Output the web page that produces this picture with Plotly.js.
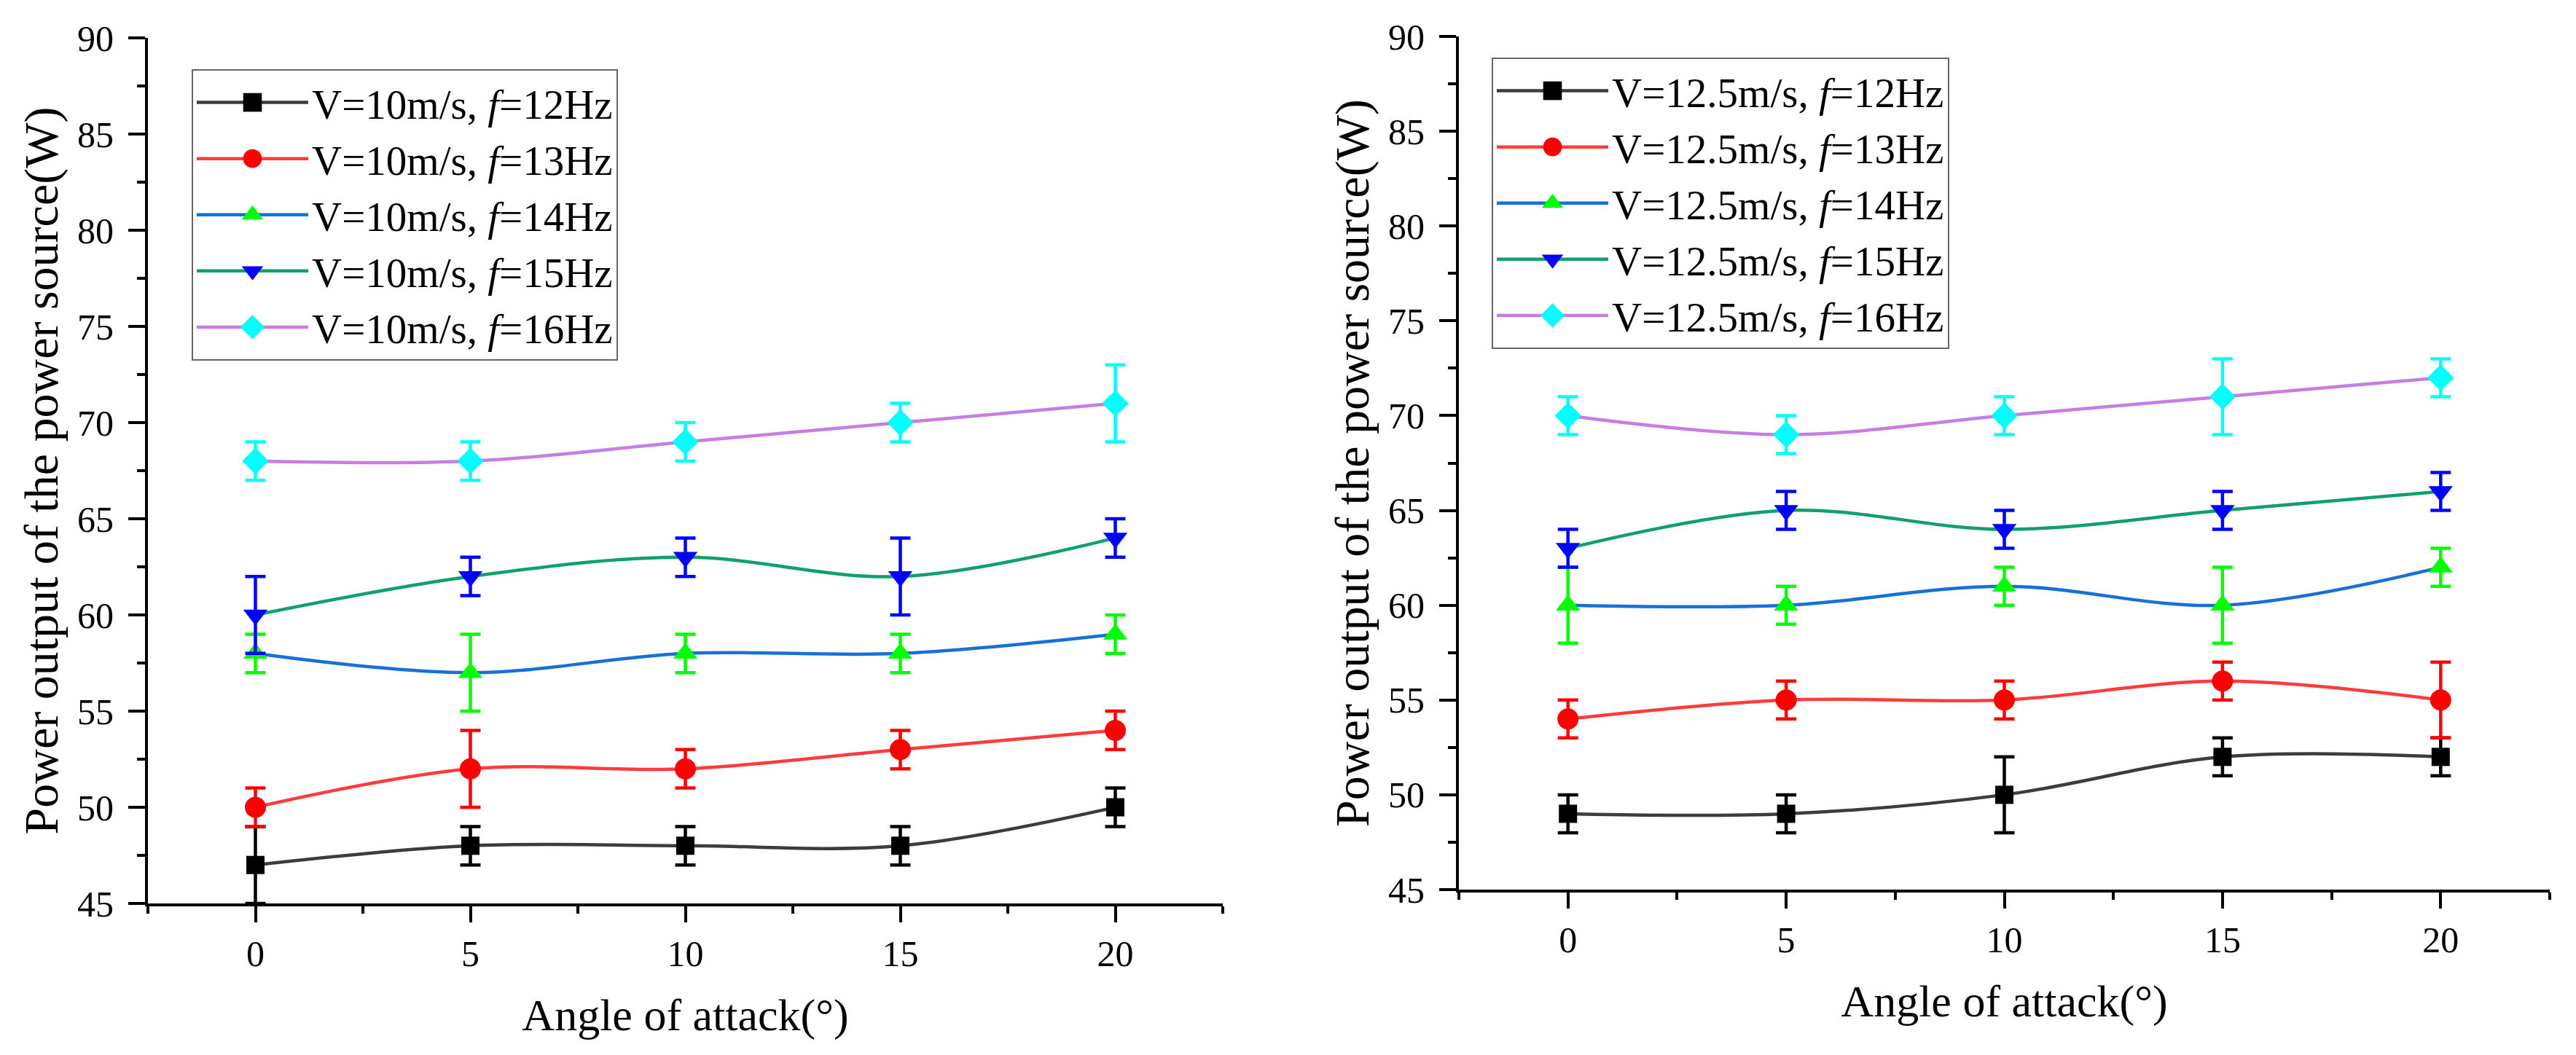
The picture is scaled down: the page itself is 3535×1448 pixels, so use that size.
<!DOCTYPE html>
<html>
<head>
<meta charset="utf-8">
<script src="https://cdn.plot.ly/plotly-3.0.1.min.js"></script>
<style>
  html, body { margin: 0; padding: 0; background: #ffffff; }
  #chart { width: 3535px; height: 1448px; }
</style>
</head>
<body>
<div id="chart"></div>
<script>
// ---------------- data ----------------
const angles = [0, 5, 10, 15, 20];

// V = 10 m/s (left panel)
const p10_f12 = [47, 48, 48, 48, 50];
const e10_f12 = [2, 1, 1, 1, 1];
const p10_f13 = [50, 52, 52, 53, 54];
const e10_f13 = [1, 2, 1, 1, 1];
const p10_f14 = [58, 57, 58, 58, 59];
const e10_f14 = [1, 2, 1, 1, 1];
const p10_f15 = [60, 62, 63, 62, 64];
const e10_f15 = [2, 1, 1, 2, 1];
const p10_f16 = [68, 68, 69, 70, 71];
const e10_f16 = [1, 1, 1, 1, 2];

// V = 12.5 m/s (right panel)
const p125_f12 = [49, 49, 50, 52, 52];
const e125_f12 = [1, 1, 2, 1, 1];
const p125_f13 = [54, 55, 55, 56, 55];
const e125_f13 = [1, 1, 1, 1, 2];
const p125_f14 = [60, 60, 61, 60, 62];
const e125_f14 = [2, 1, 1, 2, 1];
const p125_f15 = [63, 65, 64, 65, 66];
const e125_f15 = [1, 1, 1, 1, 1];
const p125_f16 = [70, 69, 70, 71, 72];
const e125_f16 = [1, 1, 1, 2, 1];

const names10 = ['V=10m/s, <i>f</i>=12Hz', 'V=10m/s, <i>f</i>=13Hz', 'V=10m/s, <i>f</i>=14Hz', 'V=10m/s, <i>f</i>=15Hz', 'V=10m/s, <i>f</i>=16Hz'];
const names125 = ['V=12.5m/s, <i>f</i>=12Hz', 'V=12.5m/s, <i>f</i>=13Hz', 'V=12.5m/s, <i>f</i>=14Hz', 'V=12.5m/s, <i>f</i>=15Hz', 'V=12.5m/s, <i>f</i>=16Hz'];

const xTitle = 'Angle of attack(°)';
const yTitle = 'Power output of the power source(W)';

// ---------------- styles ----------------
const lineColors = ['#3c3c3c', '#ff3b3b', '#1670d8', '#12a06a', '#c47ee4'];
const markColors = ['#000000', '#ff0000', '#00ff00', '#0000ff', '#00ffff'];
const symbols = ['square', 'circle', 'triangle-up', 'triangle-down', 'diamond'];
const sizes = [25, 29, 29, 29, 28];
const FONT = '"Liberation Serif", "Times New Roman", serif';

function mk(y, e, i, name, xa, ya, lg) {
  return {
    x: angles, y: y, name: name, xaxis: xa, yaxis: ya, legend: lg,
    type: 'scatter', mode: 'lines+markers',
    line: { shape: 'spline', smoothing: 1, color: lineColors[i], width: 4.5 },
    marker: { symbol: symbols[i], size: sizes[i], color: markColors[i] },
    error_y: { type: 'data', array: e, visible: true, color: markColors[i], thickness: 4.5, width: 14 }
  };
}

const left = [[p10_f12, e10_f12], [p10_f13, e10_f13], [p10_f14, e10_f14], [p10_f15, e10_f15], [p10_f16, e10_f16]];
const right = [[p125_f12, e125_f12], [p125_f13, e125_f13], [p125_f14, e125_f14], [p125_f15, e125_f15], [p125_f16, e125_f16]];

const traces = [];
left.forEach((d, i) => traces.push(mk(d[0], d[1], i, names10[i], 'x', 'y', 'legend')));
right.forEach((d, i) => traces.push(mk(d[0], d[1], i, names125[i], 'x2', 'y2', 'legend2')));

// ---------------- layout ----------------
const W = 3535, H = 1448;
const tickFont = { family: FONT, size: 50, color: '#000' };

function xBottom(domain, anchor) {
  return {
    domain: domain, anchor: anchor, range: [-2.5, 22.5],
    tickmode: 'array', tickvals: angles, ticktext: angles.map(String),
    ticks: 'outside', ticklen: 22, tickwidth: 4, tickcolor: '#000',
    minor: { tickmode: 'linear', tick0: 0, dtick: 2.5, ticks: 'outside', ticklen: 10, tickwidth: 4, tickcolor: '#000' },
    showline: true, linewidth: 4, linecolor: '#000', showgrid: false, zeroline: false,
    tickfont: tickFont, ticklabelstandoff: 0,
    title: { text: xTitle, font: { family: FONT, size: 62, color: '#000' }, standoff: 36 }
  };
}
function xTop(over, anchor) {
  return {
    overlaying: over, anchor: anchor, side: 'top', range: [-2.5, 22.5],
    tickmode: 'array', tickvals: angles, showticklabels: false,
    ticks: 'inside', ticklen: 22, tickwidth: 4, tickcolor: '#000',
    minor: { tickmode: 'linear', tick0: 0, dtick: 2.5, ticks: 'inside', ticklen: 11, tickwidth: 4, tickcolor: '#000' },
    showline: true, linewidth: 4, linecolor: '#000', showgrid: false, zeroline: false
  };
}
function yLeft(domain, anchor) {
  return {
    domain: domain, anchor: anchor, range: [45, 90],
    tickmode: 'linear', tick0: 45, dtick: 5,
    ticks: 'outside', ticklen: 23, tickwidth: 4, tickcolor: '#000',
    minor: { tickmode: 'linear', tick0: 45, dtick: 2.5, ticks: 'outside', ticklen: 11, tickwidth: 4, tickcolor: '#000' },
    showline: true, linewidth: 4, linecolor: '#000', showgrid: false, zeroline: false,
    tickfont: tickFont, ticklabelstandoff: 10,
    title: { text: yTitle, font: { family: FONT, size: 66, color: '#000' }, standoff: 6 }
  };
}
function yRight(over, anchor) {
  return {
    overlaying: over, anchor: anchor, side: 'right', range: [45, 90],
    tickmode: 'linear', tick0: 45, dtick: 5, showticklabels: false,
    ticks: 'inside', ticklen: 23, tickwidth: 4, tickcolor: '#000',
    minor: { tickmode: 'linear', tick0: 45, dtick: 2.5, ticks: 'inside', ticklen: 11, tickwidth: 4, tickcolor: '#000' },
    showline: true, linewidth: 4, linecolor: '#000', showgrid: false, zeroline: false
  };
}

const legendStyle = (x, y) => ({
  x: x, y: y, xanchor: 'left', yanchor: 'top', xref: 'paper', yref: 'paper',
  bgcolor: '#ffffff', bordercolor: '#666666', borderwidth: 2,
  font: { family: FONT, size: 57, color: '#000' },
  itemwidth: 153, tracegroupgap: 0, traceorder: 'normal'
});

const layout = {
  width: W, height: H,
  margin: { l: 0, r: 0, t: 0, b: 0, pad: 0 },
  paper_bgcolor: '#ffffff', plot_bgcolor: '#ffffff',
  showlegend: true,
  font: { family: FONT, color: '#000' },
  xaxis: xBottom([203 / W, 1678 / W], 'y'),
  yaxis: yLeft([(H - 1240) / H, (H - 52) / H], 'x'),
  xaxis2: xBottom([2002 / W, 3499 / W], 'y2'),
  yaxis2: yLeft([(H - 1221) / H, (H - 50) / H], 'x2'),
  xaxis3: xTop('x', 'y'),
  yaxis3: yRight('y', 'x'),
  xaxis4: xTop('x2', 'y2'),
  yaxis4: yRight('y2', 'x2'),
  legend: legendStyle(263 / W, (H - 95) / H),
  legend2: legendStyle(2047 / W, (H - 79) / H)
};

// enlarge the legend symbols (plotly caps legend marker size); decoration only
function fixLegends() {
  document.querySelectorAll('path.scatterpts').forEach(p => {
    const t = p.getAttribute('transform') || '';
    if (t.indexOf('scale') < 0) p.setAttribute('transform', (t + ' scale(1.6)').trim());
  });
}

const gdiv = document.getElementById('chart');
const obs = new MutationObserver(fixLegends);
obs.observe(gdiv, { childList: true, subtree: true, attributes: true, attributeFilter: ['transform'] });

Plotly.newPlot(gdiv, traces, layout, { staticPlot: true, displayModeBar: false }).then(gd => {
  fixLegends();
  setTimeout(fixLegends, 100);
});
</script>
</body>
</html>
